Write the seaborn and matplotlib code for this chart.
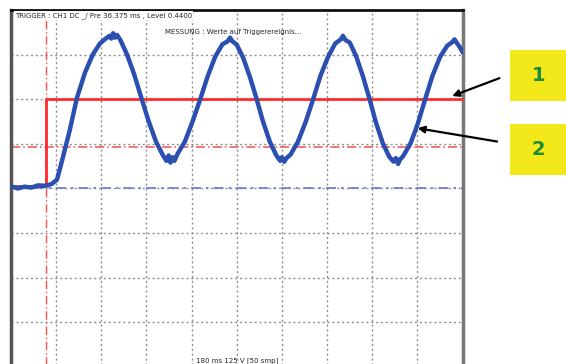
import matplotlib
matplotlib.use("Agg")
import matplotlib.pyplot as plt
import seaborn as sns
import pandas as pd
from matplotlib.patches import Rectangle

# waveform (x in divisions, y in divisions)
sig_x = [0.0, 0.15, 0.3, 0.45, 0.6, 0.75, 0.9, 1.02, 1.15, 1.3, 1.46, 1.64, 1.81, 1.97, 2.1,
         2.18, 2.22, 2.26, 2.3, 2.35,
         2.42, 2.57, 2.73, 2.89, 3.05, 3.21, 3.36, 3.44, 3.49, 3.53, 3.58, 3.62,
         3.69, 3.85, 4.02, 4.19, 4.35, 4.52, 4.68, 4.8, 4.85, 4.9,
         5.0, 5.14, 5.29, 5.44, 5.58, 5.73, 5.87, 5.96, 6.0, 6.05, 6.1,
         6.19, 6.35, 6.52, 6.69, 6.85, 7.02, 7.18, 7.3, 7.35, 7.4,
         7.5, 7.64, 7.79, 7.94, 8.08, 8.23, 8.37, 8.47, 8.52, 8.57, 8.62,
         8.68, 8.85, 9.01, 9.17, 9.33, 9.5, 9.66, 9.77, 9.82, 9.87, 9.93, 10.0]
sig_y = [4.05, 4.0, 4.04, 4.02, 4.07, 4.06, 4.1, 4.2, 4.7, 5.3, 6.03, 6.6, 7.0, 7.25, 7.36,
         7.42, 7.36, 7.48, 7.38, 7.44,
         7.33, 7.0, 6.55, 6.02, 5.5, 5.05, 4.75, 4.62, 4.74, 4.58, 4.7, 4.62,
         4.78, 5.05, 5.5, 6.0, 6.5, 6.95, 7.23, 7.3, 7.38, 7.3,
         7.22, 6.93, 6.5, 6.0, 5.5, 5.05, 4.75, 4.62, 4.7, 4.6, 4.68,
         4.76, 5.04, 5.48, 6.0, 6.52, 6.95, 7.25, 7.34, 7.42, 7.33,
         7.27, 6.97, 6.52, 6.0, 5.48, 5.02, 4.72, 4.6, 4.68, 4.55, 4.66,
         4.72, 5.02, 5.46, 6.0, 6.52, 6.95, 7.2, 7.28, 7.34, 7.26, 7.18, 7.05]

# trigger step
step_x = [0.0, 0.77, 0.77, 10.0]
step_y = [4.05, 4.05, 6.0, 6.0]
trig_x = 0.77
red_level = 4.93
blue_level = 4.01

txt_trigger = "TRIGGER : CH1 DC _/ Pre 36.375 ms , Level 0.4400"
txt_mess = "MESSUNG : Werte auf Triggerereignis..."
txt_scale = "180 ms 125 V [50 smp]"

sns.set_style("white")
fig = plt.figure(figsize=(5.66, 3.64), dpi=100)
ax = fig.add_axes([0.0194, -0.0082, 0.798, 0.9808])

# grid
for gx in range(1, 10):
    ax.axvline(gx, color="#8f8f8f", lw=1.0, ls=(0, (1.5, 2)), zorder=1)
for gy in range(1, 8):
    ax.axhline(gy, color="#8f8f8f", lw=1.0, ls=(0, (1.5, 2)), zorder=1)

ax.axvline(trig_x, color="#ff5050", lw=1.0, ls=(0, (6, 2, 1, 2)), zorder=2)
ax.axhline(red_level, color="#f05050", lw=1.1, ls=(0, (6, 2, 1, 2)), zorder=2)
ax.axhline(blue_level, color="#6a78d0", lw=1.2, ls=(0, (6, 3, 1.5, 3)), zorder=2)

ax.plot(step_x, step_y, color="#ff2a2a", lw=2.0, zorder=3)

df = pd.DataFrame({"x": sig_x, "y": sig_y})
sns.lineplot(data=df, x="x", y="y", ax=ax, color="#2b4fb0", lw=3.2,
             estimator=None, sort=False, zorder=4)

ax.set_xlim(0, 10)
ax.set_ylim(0, 8)
ax.set_xticks([])
ax.set_yticks([])
ax.set_xlabel("")
ax.set_ylabel("")
ax.spines["left"].set_color("#555555")
ax.spines["left"].set_linewidth(2.5)
ax.spines["top"].set_color("#111111")
ax.spines["top"].set_linewidth(2.0)
ax.spines["right"].set_color("#777777")
ax.spines["right"].set_linewidth(2.5)
ax.spines["bottom"].set_visible(False)

ax.text(0.08, 7.88, txt_trigger, fontsize=5, va="center", ha="left", zorder=6,
        bbox=dict(facecolor="white", edgecolor="none", pad=0.6))
ax.text(3.4, 7.5, txt_mess, fontsize=5, va="center", ha="left", zorder=6)
ax.text(4.1, 0.15, txt_scale, fontsize=5, va="center", ha="left", zorder=6)

# yellow labels with arrows
for y0, lab in [(0.7225, "1"), (0.519, "2")]:
    fig.patches.append(Rectangle((0.901, y0), 0.099, 0.14, transform=fig.transFigure,
                                 facecolor="#f2e81a", edgecolor="none"))
    fig.text(0.951, y0 + 0.07, lab, fontsize=14, fontweight="bold", color="#1e8c3c",
             ha="center", va="center")

ax.annotate("", xy=(9.71, 6.05), xytext=(0.887, 0.788), textcoords="figure fraction",
            arrowprops=dict(arrowstyle="-|>", color="black", lw=1.6, mutation_scale=10),
            annotation_clip=False)
ax.annotate("", xy=(8.94, 5.36), xytext=(0.883, 0.61), textcoords="figure fraction",
            arrowprops=dict(arrowstyle="-|>", color="black", lw=1.6, mutation_scale=10),
            annotation_clip=False)

fig.savefig("out.png", dpi=100)
